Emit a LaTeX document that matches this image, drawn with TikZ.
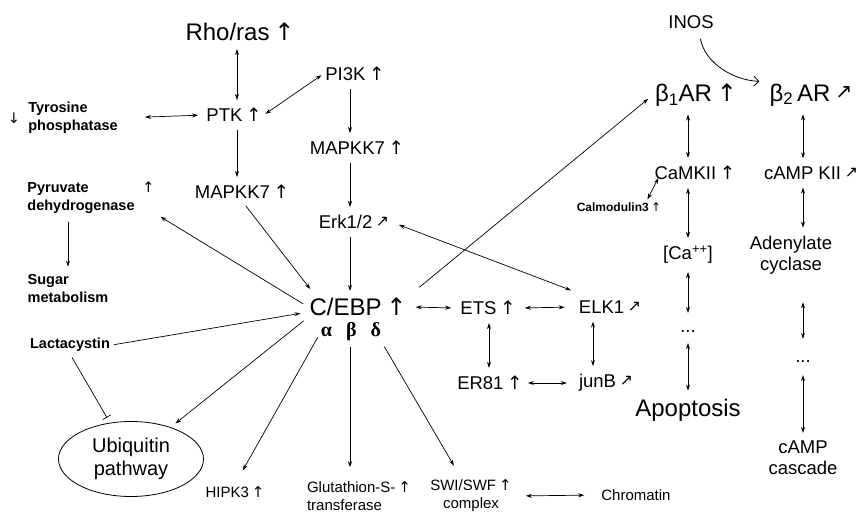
\documentclass[tikz,border=0pt]{standalone}
\usepackage{fontspec}
\setmainfont{Liberation Sans}
\newfontfamily\symfont{DejaVu Sans}
\newfontfamily\greekfont{Liberation Serif}
\usetikzlibrary{positioning, arrows.meta, shapes}

\newcommand{\upar}{\hspace{0.2em}\raisebox{0pt}[\height][0pt]{\symfont\mdseries ↑}}
\newcommand{\dnar}{{\symfont\mdseries ↓}}
\newcommand{\nearr}{\hspace{0.2em}\raisebox{0.1em}{\scalebox{0.85}{\symfont ↗}}}

\tikzset{
    big/.style={font=\fontsize{24}{27}\selectfont, inner sep=2pt},
    gene/.style={font=\fontsize{18.5}{21}\selectfont, inner sep=2pt, align=center},
    note/.style={font=\bfseries\fontsize{14.5}{18}\selectfont, inner sep=2pt, align=left},
    leaf/.style={font=\fontsize{15}{18}\selectfont, inner sep=2pt},
    iso/.style={font=\greekfont\bfseries\fontsize{20}{22}\selectfont, inner sep=0pt},
    ubiq/.style={ellipse, draw, line width=.8pt, minimum width=145pt, minimum height=75pt,
        font=\fontsize{20}{23}\selectfont, align=center, inner sep=0pt},
    link/.style={-{Stealth[length=6pt,width=4pt]}, line width=.7pt, shorten >=6pt, shorten <=6pt},
    both/.style={link, {Stealth[length=6pt,width=4pt]}-{Stealth[length=6pt,width=4pt]}},
    block/.style={-{Bar[width=9pt]}, line width=.7pt, shorten >=6pt, shorten <=4pt}
}

\begin{document}
\begin{tikzpicture}[x=1pt, y=-1pt]
    \useasboundingbox (0,0) rectangle (863,512);

    % columns of the vertical links
    \coordinate (colA) at (237,0);
    \coordinate (colB) at (350,0);
    \coordinate (colC) at (489,0);
    \coordinate (colD) at (593,0);
    \coordinate (colE) at (688,0);
    \coordinate (colF) at (803,0);
    \coordinate (colG) at (68,0);

    % left part
    \node[big] (rho) at (240,32) {Rho/ras\upar};
    \node[gene] (ptk) at (234,115) {PTK\upar};
    \node[note] (tyr) at (73,118) {Tyrosine\\phosphatase};
    \node[note] (tyrdn) at (14,118) {\dnar};
    \node[gene] (pi3k) at (355,74) {PI3K\upar};
    \node[gene] (mapl) at (242,192) {MAPKK7\upar};
    \node[gene] (mapr) at (357,148) {MAPKK7\upar};
    \node[gene] (erk) at (354,222) {Erk1/2\nearr};
    \node[note] (pyr) at (81,198) {Pyruvate\\dehydrogenase};
    \node[note] (pyrup) at (147,187) {\upar};
    \node[note] (sugar) at (68,289) {Sugar\\metabolism};
    \node[note] (lact) at (70,345) {Lactacystin};
    \node[ubiq] (ubi) at (131,459) {Ubiquitin\\pathway};

    % centre
    \node[big, inner sep=1pt] (cebp) at (358,307) {C/EBP\upar};
    \node[iso] (iso) at (351,332) {α\hspace{14pt}β\hspace{14pt}δ};
    \node[leaf] (hipk) at (235,492) {HIPK3\upar};
    \node[leaf, align=left] (glut) at (359,496) {Glutathion-S-\upar\\transferase};
    \node[leaf, align=center] (swi) at (471,496) {SWI/SWF\upar\\complex};
    \node[leaf] (chrom) at (636,495) {Chromatin};
    \node[gene] (ets) at (488,308) {ETS\upar};
    \node[gene] (elk) at (610,307) {ELK1\nearr};
    \node[gene] (er81) at (490,383) {ER81\upar};
    \node[gene] (junb) at (606,383) {junB\nearr};

    % right part
    \node[gene] (inos) at (691,22) {INOS};
    \node[big] (b1) at (696,95) {β\textsubscript{1}AR\upar};
    \node[big] (b2) at (811,95) {β\textsubscript{2}\,AR\nearr};
    \node[gene] (camk) at (695,173) {CaMKII\upar};
    \node[gene] (campk) at (811,173) {cAMP KII\nearr};
    \node[note, font=\bfseries\fontsize{12}{14}\selectfont] (calm) at (619,207) {Calmodulin3\upar};
    \node[gene] (ca) at (688,255) {[Ca\textsuperscript{++}]};
    \node[gene] (dotsl) at (688,332) {...};
    \node[big] (apop) at (688,410) {Apoptosis};
    \node[gene] (adc) at (791,255) {Adenylate\\cyclase};
    \node[gene] (dotsr) at (803,362) {...};
    \node[gene] (camp) at (803,458) {cAMP\\cascade};

    \path
        (rho.south -| colA) edge[both] (ptk.north -| colA)
        (ptk.south -| colA) edge[link] (mapl.north -| colA)
        (tyr.east) edge[both, shorten <=25pt] (ptk.west)
        (ptk.east) edge[both, shorten <=2pt, shorten >=2pt] (pi3k.west)
        (pi3k.south -| colB) edge[link] (mapr.north -| colB)
        (mapr.south -| colB) edge[link] (erk.north -| colB)
        (erk.south -| colB) edge[link] (cebp.north -| colB)
        (mapl.south) edge[link, shorten >=10pt] ([xshift=8pt]cebp.north west)
        (pyr.south -| colG) edge[link] (sugar.north -| colG)
        (cebp.west) edge[link, shorten >=2pt] ([xshift=22pt]pyr.south east)
        (lact.east) edge[link, shorten <=2pt, shorten >=8pt] ([yshift=-5pt]cebp.west)
        (lact.south) edge[block] (ubi)
        (cebp.south west) edge[link] (ubi)
        (iso.west) edge[link, shorten >=16pt] (hipk.north)
        (iso.south -| colB) edge[link, shorten >=12pt] (glut.north -| colB)
        (iso.south east) edge[link, shorten >=14pt] ([xshift=-10pt]swi.north)
        (swi.east) edge[both, shorten <=12pt, shorten >=15pt] (chrom.west)
        (cebp.east) edge[both, shorten <=8pt, shorten >=7pt] (ets.west)
        (ets.east) edge[both, shorten <=7pt, shorten >=12pt] (elk.west)
        (ets.south -| colC) edge[both] (er81.north -| colC)
        (er81.east) edge[both, shorten <=3pt, shorten >=10pt] (junb.west)
        (elk.south -| colD) edge[both] (junb.north -| colD)
        (erk.east) edge[both, shorten <=8pt, shorten >=6pt] ([yshift=6pt]elk.north west)
        (cebp.north east) edge[link, shorten <=15pt, shorten >=6pt] (b1.west)
        (b1.south -| colE) edge[both] (camk.north -| colE)
        (camk.south -| colE) edge[both] (ca.north -| colE)
        (ca.south -| colE) edge[both, shorten >=16pt] (dotsl.north -| colE)
        (dotsl.south -| colE) edge[both, shorten <=8pt] (apop.north -| colE)
        ([xshift=-16pt,yshift=1pt]calm.north east) edge[both, shorten <=0pt, shorten >=0pt] ([xshift=6pt,yshift=4pt]camk.south west)
        (b2.south -| colF) edge[both] (campk.north -| colF)
        (campk.south -| colF) edge[both] (adc.north -| colF)
        (adc.south -| colF) edge[both, shorten <=26pt, shorten >=20pt] (dotsr.north -| colF)
        (dotsr.south -| colF) edge[both, shorten <=10pt] (camp.north -| colF)
        ([xshift=8pt]inos.south) edge[-{Straight Barb[length=5pt,width=10pt]}, line width=.8pt,
            out=-80, in=178, shorten <=8pt, shorten >=8pt] (b2.north west);
\end{tikzpicture}
\end{document}
